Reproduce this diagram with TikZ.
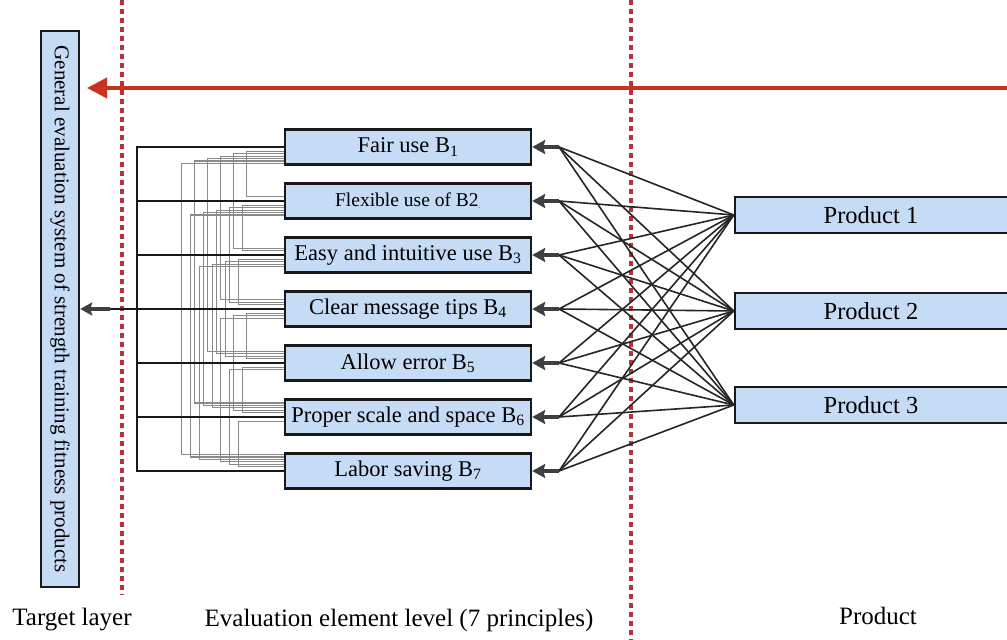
\documentclass[tikz,border=0pt]{standalone}
\usepackage{fontspec}
\setmainfont{Liberation Serif}
\usetikzlibrary{arrows.meta}
\definecolor{boxblue}{HTML}{C6DBF5}
\definecolor{reddash}{HTML}{B8323A}
\definecolor{redarrow}{HTML}{C8321E}
\definecolor{darkarrow}{HTML}{3F3F3F}
\definecolor{tangle}{HTML}{8A8A8A}
\begin{document}
\begin{tikzpicture}[x=1pt,y=1pt,
  elbox/.style={draw=black!90, line width=2.4pt, fill=boxblue, minimum width=246pt, minimum height=35pt, inner sep=0pt, font=\fontsize{22.5}{24}\selectfont},
  prodbox/.style={draw=black!90, line width=2.4pt, fill=boxblue, minimum width=280pt, minimum height=36pt, inner sep=0pt, font=\fontsize{24.5}{26}\selectfont},
  targetbox/.style={draw=black!90, line width=2.4pt, fill=boxblue, minimum width=556pt, minimum height=38pt, inner sep=0pt, rotate=-90, font=\fontsize{21}{22}\selectfont},
  levellabel/.style={font=\fontsize{25}{27}\selectfont, inner sep=0pt},
  dividerline/.style={reddash, line width=3.2pt, dash pattern=on 5pt off 4pt},
  redarrowline/.style={redarrow, line width=3.8pt, -{Triangle[length=20pt,width=20pt]}},
  elarrow/.style={darkarrow, line width=4.2pt, -{Stealth[length=13pt,width=14pt,inset=2pt]}},
  prodline/.style={black!85, line width=1.6pt},
  bracketline/.style={black!90, line width=1.7pt},
  tangleline/.style={tangle, line width=1.1pt},
]
\useasboundingbox (0,0) rectangle (1007,640);
\clip (0,0) rectangle (1007,640);
\fill[white] (0,0) rectangle (1007,640);

% dividers
\coordinate (d1top) at (122,640);
\coordinate (d1bot) at (122,45);
\coordinate (d2top) at (631,640);
\coordinate (d2bot) at (631,0);
\draw[dividerline] (d1top) -- (d1bot);
\draw[dividerline] (d2top) -- (d2bot);

% target box
\node[targetbox] (t) at (60,331) {General evaluation system of strength training fitness products};

% element boxes
\node[elbox] (e1) at (408,493) {Fair use B\textsubscript{1}};
\node[elbox, font=\fontsize{19.5}{21}\selectfont] (e2) at (408,439) {Flexible use of B2\textsubscript{\tiny -}};
\node[elbox] (e3) at (408,385) {Easy and intuitive use B\textsubscript{3}};
\node[elbox] (e4) at (408,331) {Clear message tips B\textsubscript{4}};
\node[elbox] (e5) at (408,277) {Allow error B\textsubscript{5}};
\node[elbox] (e6) at (408,223) {Proper scale and space B\textsubscript{6}};
\node[elbox] (e7) at (408,169) {Labor saving B\textsubscript{7}};

% product boxes
\node[prodbox] (p1) at (875,425) {\hspace*{-8pt}Product 1};
\node[prodbox] (p2) at (875,329) {\hspace*{-8pt}Product 2};
\node[prodbox] (p3) at (875,235) {\hspace*{-8pt}Product 3};

% red arrow
\coordinate (rstart) at (1010,552);
\coordinate (rend) at (87,552);
\draw[redarrowline] (rstart) -- (rend);

% grey tangle
\foreach \i in {1,...,6}{
  \pgfmathtruncatemacro\ip{\i+1}
  \foreach \j in {\ip,...,7}{
    \pgfmathsetmacro\dd{\j-\i}
    \pgfmathsetmacro\len{24+13*\dd+4*mod(\i-1,3)}
    \pgfmathsetmacro\ao{2+2.4*\dd}
    \draw[tangleline] ([yshift=-\ao pt]e\i.west) -- ++(-\len pt,0) |- ([yshift=\ao pt]e\j.west);
  }
}

% black bracket
\coordinate (b1) at (137,493);
\coordinate (b7) at (137,169);
\coordinate (b4) at (137,331);
\draw[bracketline] (e1.west) -- (b1) -- (b7) -- (e7.west);
\foreach \i in {2,...,6}{
  \draw[bracketline] (e\i.west) -- (137,0 |- e\i.west);
}
\coordinate (a0) at (100,331);
\coordinate (a1) at (110,331);
\draw[bracketline] (b4) -- (a0);
\draw[darkarrow, line width=3.6pt, -{Stealth[length=12pt,width=13pt,inset=2pt]}] (a1) -- (t.north);

% product connections
\foreach \i/\y in {1/493,2/439,3/385,4/331,5/277,6/223,7/169}{
  \coordinate (c\i) at (559,\y);
}
\foreach \k in {1,2,3}{
  \foreach \i in {1,...,7}{
    \draw[prodline] (p\k.west) -- (c\i);
  }
}
\foreach \i in {1,...,7}{
  \draw[elarrow] (c\i) -- (e\i.east);
}

% level labels
\node[levellabel] (l1) at (72,20) {Target layer};
\node[levellabel] (l2) at (399,20) {Evaluation element level (7 principles)};
\node[levellabel] (l3) at (878,24) {Product};
\end{tikzpicture}
\end{document}
